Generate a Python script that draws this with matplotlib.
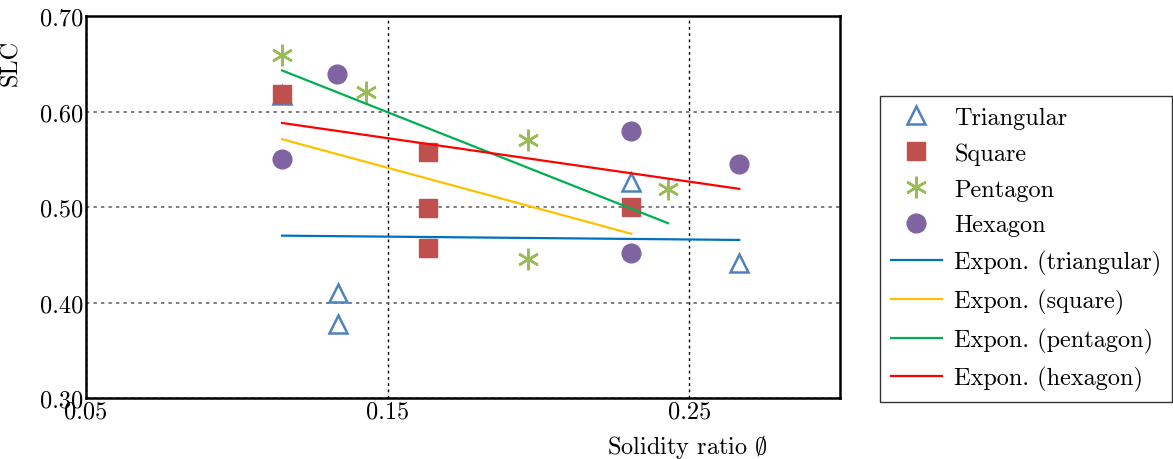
import matplotlib
matplotlib.use('Agg')
import matplotlib.pyplot as plt
import numpy as np

plt.rcParams['font.family'] = 'cmr10'
plt.rcParams['mathtext.fontset'] = 'cm'
plt.rcParams['axes.formatter.use_mathtext'] = True

# data
tri_x = [0.115, 0.1336, 0.1336, 0.2308, 0.2666]
tri_y = [0.617, 0.410, 0.378, 0.526, 0.441]
sq_x = [0.115, 0.1634, 0.1634, 0.1634, 0.2308]
sq_y = [0.618, 0.558, 0.499, 0.457, 0.500]
pen_x = [0.115, 0.1429, 0.1966, 0.1966, 0.243]
pen_y = [0.659, 0.620, 0.570, 0.446, 0.519]
hex_x = [0.115, 0.1333, 0.2308, 0.2308, 0.2666]
hex_y = [0.550, 0.639, 0.580, 0.452, 0.545]

# trend lines (start / end)
tri_fit_x = [0.115, 0.2666]
tri_fit_y = [0.470, 0.4655]
sq_fit_x = [0.115, 0.2308]
sq_fit_y = [0.571, 0.472]
pen_fit_x = [0.115, 0.243]
pen_fit_y = [0.643, 0.483]
hex_fit_x = [0.115, 0.2666]
hex_fit_y = [0.588, 0.519]

fig = plt.figure(figsize=(11.73, 4.6), dpi=100)
ax = fig.add_axes([86/1173, 1 - 399/460, 754/1173, 382/460])

ms = 13.5
ax.plot(tri_x, tri_y, '^', ls='none', ms=ms, mfc='none', mec='#4F81BD', mew=1.8, label='Triangular', zorder=3)
ax.plot(sq_x, sq_y, 's', ls='none', ms=ms, color='#C0504D', mec='#C0504D', label='Square', zorder=4)
ax.plot(pen_x, pen_y, marker=(6, 2, 0), ls='none', ms=ms + 2, mec='#9BBB59', mew=1.8, label='Pentagon', zorder=3)
ax.plot(hex_x, hex_y, 'o', ls='none', ms=ms, color='#8064A2', mec='#8064A2', label='Hexagon', zorder=3)

ax.plot(tri_fit_x, tri_fit_y, color='#0070C0', lw=1.6, label='Expon. (triangular)', zorder=5)
ax.plot(sq_fit_x, sq_fit_y, color='#FFC000', lw=1.6, label='Expon. (square)', zorder=5)
ax.plot(pen_fit_x, pen_fit_y, color='#00B050', lw=1.6, label='Expon. (pentagon)', zorder=5)
ax.plot(hex_fit_x, hex_fit_y, color='#FF0000', lw=1.6, label='Expon. (hexagon)', zorder=5)

ax.set_xlim(0.05, 0.30)
ax.set_ylim(0.30, 0.70)
ax.set_xticks([0.05, 0.15, 0.25])
ax.set_xticklabels(['0.05', '0.15', '0.25'])
ax.set_yticks([0.30, 0.40, 0.50, 0.60, 0.70])
ax.set_yticklabels(['0.30', '0.40', '0.50', '0.60', '0.70'])
ax.tick_params(length=0, labelsize=17.5, pad=2)

ax.xaxis.grid(True, color='black', linestyle=(0, (2, 2.5)), lw=1)
ax.yaxis.grid(True, color='#666666', linestyle=(0, (2, 2.5)), lw=1.2)
ax.set_axisbelow(True)
for s in ax.spines.values():
    s.set_linewidth(1.8)

ax.set_ylabel('SLC', fontsize=17.5)
ax.yaxis.set_label_coords(-0.085, 0.88)
ax.set_xlabel(r'Solidity ratio $\emptyset$', fontsize=17.5)
ax.xaxis.set_label_coords(0.798, -0.09)

leg = fig.legend(loc='center left', bbox_to_anchor=(880/1173, 1 - 250/460), fontsize=17.5,
                 frameon=True, fancybox=False, edgecolor='black', labelspacing=0.56,
                 handlelength=2.1, handletextpad=0.5, borderpad=0.45, borderaxespad=0)
leg.get_frame().set_linewidth(1.0)

fig.savefig('out.png', dpi=100)
